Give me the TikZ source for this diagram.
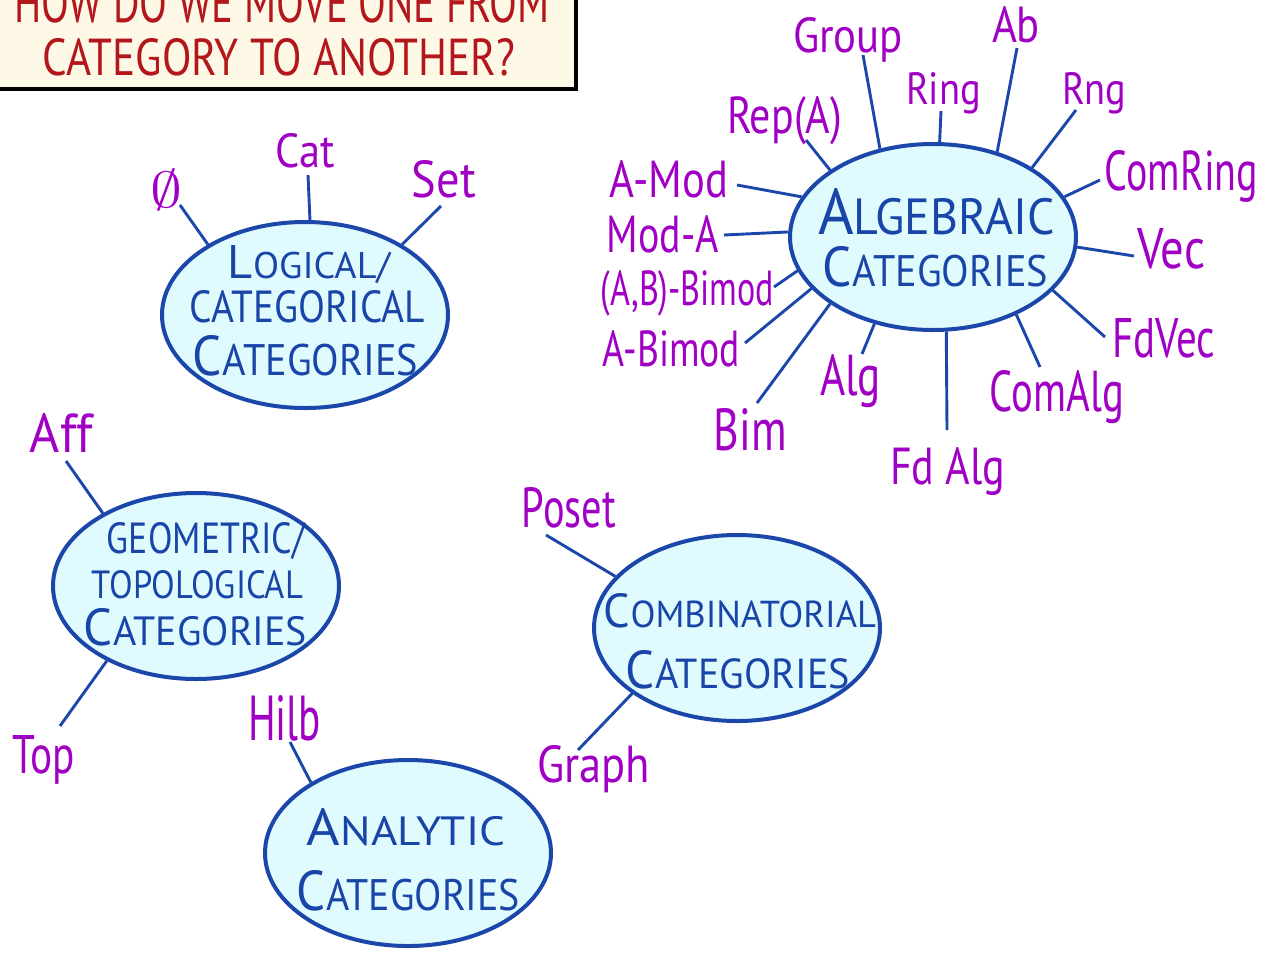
\documentclass[tikz,border=0pt]{standalone}
\usepackage{fontspec}
\setmainfont{PT Sans}
\usepackage{graphicx}
\usetikzlibrary{shapes.geometric}

\definecolor{ovalfill}{HTML}{E0FBFD}
\definecolor{ovalline}{HTML}{1C47AA}
\definecolor{inkblue}{HTML}{1A45A8}
\definecolor{inkpurple}{HTML}{A000C4}
\definecolor{inkred}{HTML}{B3161B}
\definecolor{paper}{HTML}{FEF8E7}

% text scaled to a given width and cap height (in pt)
\newcommand\fitto[3]{\resizebox{#1pt}{#2pt}{#3}}
% hand-lettered small capitals: large first letter, smaller rest
\newcommand\capsc[2]{{\fontsize{14}{14}\selectfont #1}{\fontsize{11}{11}\selectfont #2}}
\newcommand\smcaps[1]{{\fontsize{11}{11}\selectfont #1}}

\begin{document}
\begin{tikzpicture}[x=1pt,y=-1pt,
  oval/.style={ellipse, draw=ovalline, fill=ovalfill, line width=4pt,
    minimum width=286pt, minimum height=186pt, inner sep=0pt},
  conn/.style={draw=ovalline, line width=2.9pt},
  lbl/.style={text=inkpurple, inner sep=0pt, anchor=base},
  ovaltext/.style={text=inkblue, inner sep=0pt, anchor=base},
  titletext/.style={text=inkred, inner sep=0pt, anchor=base},
  titlebox/.style={draw=black, fill=paper, line width=3.5pt}]

\useasboundingbox (0,0) rectangle (1268,954);
\clip (0,0) rectangle (1268,954);

% ---------- title ----------
\draw[titlebox] (-10,-10) rectangle (576,89);
\node[titletext] (title1) at (282,22) {\fitto{535}{40}{HOW DO WE MOVE ONE FROM}};
\node[titletext] (title2) at (279,75) {\fitto{472}{37}{CATEGORY TO ANOTHER?}};

% ---------- category ovals ----------
\node[oval] (logic) at (305,315) {};
\node[oval] (alg)   at (933,237) {};
\node[oval] (geo)   at (196,586) {};
\node[oval] (comb)  at (737,628) {};
\node[oval] (ana)   at (408,853) {};

% oval captions
\node[ovaltext] (logic1) at (309,278) {\fitto{162}{33}{\capsc{L}{OGICAL/}}};
\node[ovaltext] (logic2) at (307.5,322) {\fitto{235}{32}{\smcaps{CATEGORICAL}}};
\node[ovaltext] (logic3) at (305.5,375) {\fitto{225}{40}{\capsc{C}{ATEGORIES}}};

\node[ovaltext] (alg1) at (936.5,234) {\fitto{237}{46}{\capsc{A}{LGEBRAIC}}};
\node[ovaltext] (alg2) at (935.5,286) {\fitto{225}{40}{\capsc{C}{ATEGORIES}}};

\node[ovaltext] (geo1) at (206,553) {\fitto{198}{31}{\smcaps{GEOMETRIC/}}};
\node[ovaltext] (geo2) at (197.5,598) {\fitto{211}{28}{\smcaps{TOPOLOGICAL}}};
\node[ovaltext] (geo3) at (195.5,645) {\fitto{223}{37}{\capsc{C}{ATEGORIES}}};

\node[ovaltext] (comb1) at (740,627) {\fitto{272}{34}{\capsc{C}{OMBINATORIAL}}};
\node[ovaltext] (comb2) at (738,688) {\fitto{224}{38}{\capsc{C}{ATEGORIES}}};

\node[ovaltext] (ana1) at (406,845) {\fitto{198}{37}{\capsc{A}{NALYTIC}}};
\node[ovaltext] (ana2) at (408.5,910) {\fitto{223}{40}{\capsc{C}{ATEGORIES}}};

% ---------- example categories ----------
\node[lbl] (empty) at (166,207) {\fitto{32}{38}{$\emptyset$}};
\node[lbl] (cat)   at (305.5,167) {\fitto{59}{34}{Cat}};
\node[lbl] (set)   at (444,197) {\fitto{64}{37}{Set}};

\node[lbl] (group)  at (848,52)   {\fitto{110}{35}{Group}};
\node[lbl] (ring)   at (943.5,104) {\fitto{75}{32}{Ring}};
\node[lbl] (ab)     at (1016,42)  {\fitto{48}{36}{Ab}};
\node[lbl] (rng)    at (1094,104) {\fitto{64}{32}{Rng}};
\node[lbl] (repa)   at (784.5,133) {\fitto{115}{37}{Rep(A)}};
\node[lbl] (amod)   at (669,197)  {\fitto{118}{37}{A-Mod}};
\node[lbl] (moda)   at (663,252)  {\fitto{112}{37}{Mod-A}};
\node[lbl] (abbim)  at (687.5,305) {\fitto{173}{35}{(A,B)-Bimod}};
\node[lbl] (abim)   at (671.5,366) {\fitto{137}{36}{A-Bimod}};
\node[lbl] (bim)    at (750.5,450) {\fitto{73}{42}{Bim}};
\node[lbl] (alge)   at (850.5,395) {\fitto{61}{41}{Alg}};
\node[lbl] (fdalg)  at (947.5,484) {\fitto{115}{37}{Fd Alg}};
\node[lbl] (comalg) at (1057,411) {\fitto{134}{41}{ComAlg}};
\node[lbl] (fdvec)  at (1163.5,357) {\fitto{103}{39}{FdVec}};
\node[lbl] (vec)    at (1171,268) {\fitto{68}{40}{Vec}};
\node[lbl] (comring) at (1181.5,190) {\fitto{153}{40}{ComRing}};

\node[lbl] (aff)   at (61.5,452) {\fitto{63}{39}{Aff}};
\node[lbl] (top)   at (44,773)   {\fitto{62}{38}{Top}};
\node[lbl] (hilb)  at (284.5,740) {\fitto{73}{45}{Hilb}};
\node[lbl] (poset) at (569,527)  {\fitto{94}{40}{Poset}};
\node[lbl] (graph) at (593.5,782) {\fitto{113}{37}{Graph}};

% ---------- connector ends beside the labels ----------
\coordinate (e-empty) at (180,205);
\coordinate (e-cat)   at (308,175);
\coordinate (e-set)   at (441,206);
\coordinate (e-group) at (863,55);
\coordinate (e-ring)  at (941,111);
\coordinate (e-ab)    at (1017,48);
\coordinate (e-rng)   at (1076,110);
\coordinate (e-repa)  at (806,140);
\coordinate (e-amod)  at (737,185);
\coordinate (e-moda)  at (724,235);
\coordinate (e-abbim) at (774,287);
\coordinate (e-abim)  at (745,343);
\coordinate (e-bim)   at (757,403);
\coordinate (e-alge)  at (862,354);
\coordinate (e-fdalg) at (947,430);
\coordinate (e-comalg) at (1040,367);
\coordinate (e-fdvec) at (1105,337);
\coordinate (e-vec)   at (1134,256);
\coordinate (e-comring) at (1100,180);
\coordinate (e-aff)   at (66,461);
\coordinate (e-top)   at (60,726);
\coordinate (e-hilb)  at (290,742);
\coordinate (e-poset) at (546,535);
\coordinate (e-graph) at (578,750);

% ---------- connectors ----------
\draw[conn] (e-empty) -- (logic.144.6);
\draw[conn] (e-cat)   -- (logic.87);
\draw[conn] (e-set)   -- (logic.36.4);

\draw[conn] (e-group) -- (alg.121.4);
\draw[conn] (e-ring)  -- (alg.86);
\draw[conn] (e-ab)    -- (alg.53.9);
\draw[conn] (e-rng)   -- (alg.35.3);
\draw[conn] (e-repa)  -- (alg.147);
\draw[conn] (e-amod)  -- (alg.163.7);
\draw[conn] (e-moda)  -- (alg.178.4);
\draw[conn] (e-abbim) -- (alg.194);
\draw[conn] (e-abim)  -- (alg.203.3);
\draw[conn] (e-bim)   -- (alg.213.9);
\draw[conn] (e-alge)  -- (alg.236.5);
\draw[conn] (e-fdalg) -- (alg.278.6);
\draw[conn] (e-comalg) -- (alg.317.5);
\draw[conn] (e-fdvec) -- (alg.336.9);
\draw[conn] (e-vec)   -- (alg.356);
\draw[conn] (e-comring) -- (alg.17.5);

\draw[conn] (e-aff)   -- (geo.142.6);
\draw[conn] (e-top)   -- (geo.220.1);
\draw[conn] (e-hilb)  -- (ana.144.5);
\draw[conn] (e-poset) -- (comb.157.9);
\draw[conn] (e-graph) -- (comb.212.1);

\end{tikzpicture}
\end{document}
